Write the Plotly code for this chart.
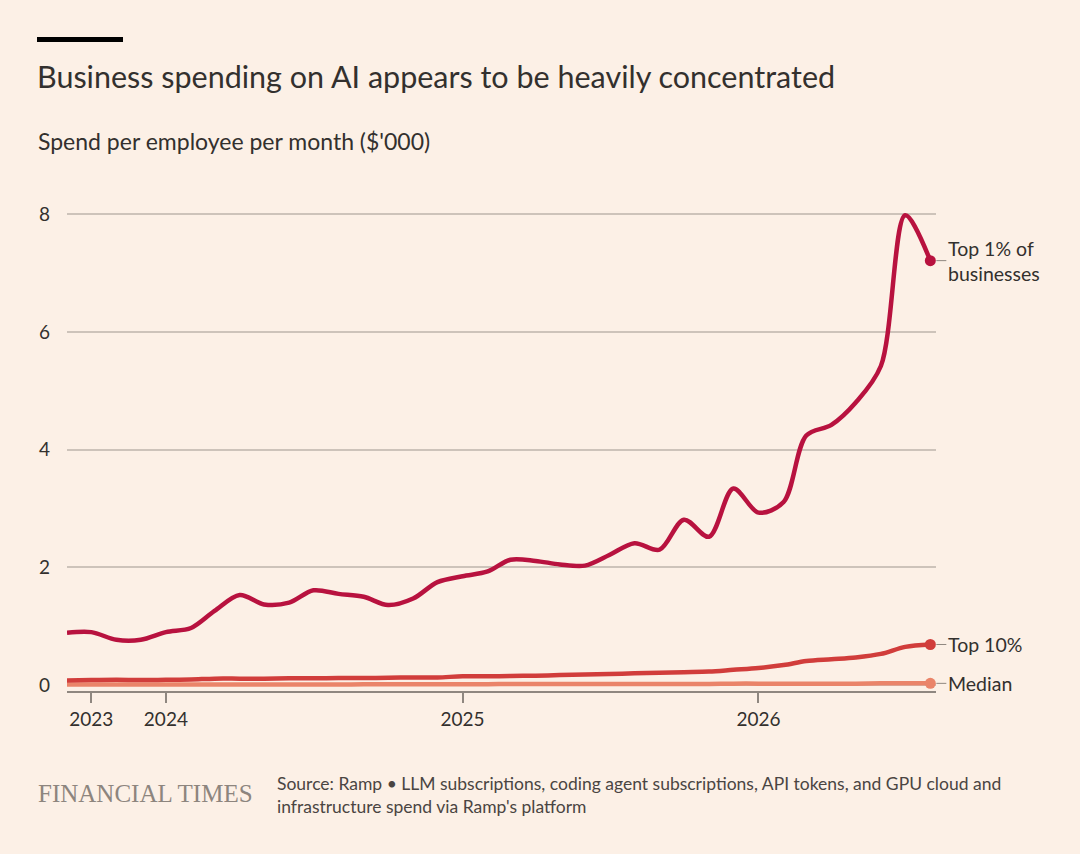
import plotly.graph_objects as go
import pandas as pd

# ---- data ----
months = pd.date_range("2023-09-01", periods=36, freq="MS")
top1 = [0.89, 0.90, 0.77, 0.77, 0.90, 0.97, 1.26, 1.53, 1.37, 1.40, 1.61, 1.55,
        1.50, 1.36, 1.47, 1.75, 1.85, 1.93, 2.13, 2.11, 2.05, 2.03, 2.21, 2.41,
        2.30, 2.81, 2.52, 3.34, 2.93, 3.11, 4.24, 4.42, 4.80, 5.42, 7.98, 7.21]
top10 = [0.08, 0.085, 0.09, 0.085, 0.09, 0.095, 0.11, 0.11, 0.11, 0.115, 0.115, 0.12,
         0.12, 0.125, 0.13, 0.13, 0.15, 0.15, 0.155, 0.16, 0.17, 0.18, 0.19, 0.20,
         0.21, 0.22, 0.23, 0.26, 0.29, 0.34, 0.41, 0.44, 0.47, 0.53, 0.65, 0.69]
median = [0.01, 0.01, 0.01, 0.01, 0.01, 0.01, 0.01, 0.01, 0.01, 0.01, 0.01, 0.01,
          0.015, 0.015, 0.015, 0.015, 0.015, 0.015, 0.02, 0.02, 0.02, 0.02, 0.02, 0.02,
          0.02, 0.02, 0.02, 0.025, 0.025, 0.025, 0.025, 0.025, 0.025, 0.03, 0.03, 0.03]
series_names = ["Top 1% of<br>businesses", "Top 10%", "Median"]
y_ticks = [0, 2, 4, 6, 8]
x_tickvals = ["2023-10-01", "2024-01-01", "2025-01-01", "2026-01-01"]
x_ticktext = ["2023", "2024", "2025", "2026"]

# ---- styling ----
BG = "#fcf0e6"
TXT = "#33302e"
GRID = "#cdc3ba"
AXIS = "#8f8780"
colors = ["#b8123f", "#d13d3b", "#ea8469"]
FONT = "Lato"

W, H = 1080, 854
L, R, T, B = 67, 144, 200, 163
plot_h = H - T - B


def py(pix):
    return (H - B - pix) / plot_h


def px(pix):
    return (pix - L) / (W - L - R)


fig = go.Figure()
for vals, name, col in zip([median, top10, top1], series_names[::-1], colors[::-1]):
    fig.add_trace(go.Scatter(
        x=months, y=vals, mode="lines", name=name,
        line=dict(color=col, width=4.5, shape="spline", smoothing=0.9),
        hoverinfo="skip", showlegend=False))
    fig.add_trace(go.Scatter(
        x=[months[-1]], y=[vals[-1]], mode="markers",
        marker=dict(color=col, size=11), hoverinfo="skip", showlegend=False))

annotations = []
for vals, name in zip([top1, top10, median], series_names):
    annotations.append(dict(
        x=months[-1], y=vals[-1], xref="x", yref="y", text=name,
        showarrow=True, arrowhead=0, arrowwidth=1, arrowcolor=AXIS,
        ax=16, ay=0, standoff=6, xanchor="left", yanchor="middle",
        align="left", font=dict(family=FONT, size=19.5, color=TXT)))

annotations += [
    dict(x=px(35), y=py(76), xref="paper", yref="paper", xanchor="left", yanchor="middle",
         text="Business spending on AI appears to be heavily concentrated", showarrow=False,
         font=dict(family=FONT, size=30.5, color=TXT)),
    dict(x=px(36), y=py(141), xref="paper", yref="paper", xanchor="left", yanchor="middle",
         text="Spend per employee per month ($'000)", showarrow=False,
         font=dict(family=FONT, size=23, color=TXT)),
    dict(x=px(36), y=py(793), xref="paper", yref="paper", xanchor="left", yanchor="middle",
         text="FINANCIAL TIMES", showarrow=False,
         font=dict(family="Liberation Serif", size=25, color="#8d857e")),
    dict(x=px(275), y=py(795), xref="paper", yref="paper", xanchor="left", yanchor="middle",
         text="Source: Ramp \u2022 LLM subscriptions, coding agent subscriptions, API tokens, and GPU cloud and<br>infrastructure spend via Ramp's platform",
         showarrow=False, align="left",
         font=dict(family=FONT, size=17.5, color="#4a4542")),
]

fig.update_layout(
    template="none",
    width=W, height=H, paper_bgcolor=BG, plot_bgcolor=BG,
    margin=dict(l=L, r=R, t=T, b=B),
    annotations=annotations,
    shapes=[dict(type="rect", xref="paper", yref="paper",
                 x0=px(37), x1=px(123), y0=py(42), y1=py(37),
                 fillcolor="#000000", line=dict(width=0))],
    xaxis=dict(type="date", range=["2023-09-01", "2026-08-08"],
               tickmode="array", tickvals=x_tickvals, ticktext=x_ticktext,
               showgrid=False, zeroline=False, showline=True, linecolor=AXIS, linewidth=1.5,
               ticks="outside", ticklen=10, tickcolor=AXIS, tickwidth=2,
               tickfont=dict(family=FONT, size=19, color=TXT)),
    yaxis=dict(range=[-0.1, 8.24], tickmode="array", tickvals=y_ticks, showgrid=True,
               gridcolor=GRID, gridwidth=1.5, zeroline=False, showline=False, ticks="",
               ticklabelstandoff=16,
               tickfont=dict(family=FONT, size=19, color=TXT)),
)

fig.write_html(
    "out.html",
    config={"displayModeBar": False},
    post_script="document.body.style.margin='0';document.body.style.background='" + BG + "';",
)
